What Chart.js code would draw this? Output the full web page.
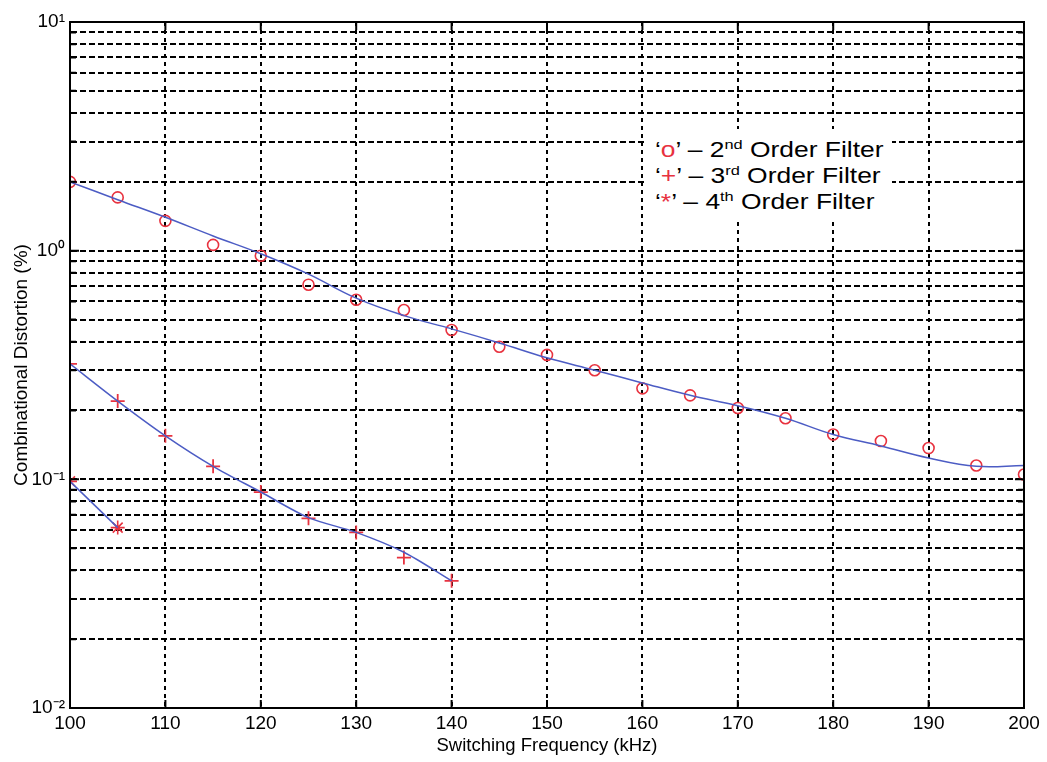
<!DOCTYPE html>
<html>
<head>
<meta charset="utf-8">
<script src="https://cdn.jsdelivr.net/npm/chart.js@4/dist/chart.umd.min.js"></script>
<style>
  html, body { margin: 0; padding: 0; background: #fff; }
  #wrap { position: relative; width: 1047px; height: 762px; }
  #legend {
    position: absolute; left: 646px; top: 129px; width: 246px; height: 90px;
    background: #fff;
  }
  #legend .txt {
    position: absolute; left: 9px; top: 8px;
    font-family: "Liberation Sans", Arial, sans-serif; font-size: 22px;
    line-height: 26px; color: #000; white-space: nowrap;
    transform: scaleX(1.2); transform-origin: left top;
  }
  #legend .mk { color: #e8323f; }
  #legend sup { font-size: 0.62em; vertical-align: 0.62em; line-height: 0; }
</style>
</head>
<body>
<div id="wrap">
  <canvas id="distChart" width="1047" height="762"></canvas>
  <div id="legend">
    <div class="txt">
      <div>‘<span class="mk">o</span>’ – 2<sup>nd</sup> Order Filter</div>
      <div>‘<span class="mk">+</span>’ – 3<sup>rd</sup> Order Filter</div>
      <div>‘<span class="mk">*</span>’ – 4<sup>th</sup> Order Filter</div>
    </div>
  </div>
</div>
<script>
// switching frequency (kHz) and measured distortion (%)
const freq2 = [100,105,110,115,120,125,130,135,140,145,150,155,160,165,170,175,180,185,190,195,200];
const dist2 = [2.0,1.71,1.35,1.06,0.95,0.71,0.61,0.55,0.45,0.38,0.35,0.30,0.25,0.233,0.205,0.185,0.157,0.147,0.137,0.115,0.105];
const fit2  = [2.0,1.67,1.40,1.16,0.97,0.79,0.62,0.52,0.455,0.395,0.34,0.30,0.264,0.233,0.21,0.185,0.157,0.14,0.124,0.114,0.115];

const freq3 = [100,105,110,115,120,125,130,135,140];
const dist3 = [0.32,0.22,0.155,0.114,0.088,0.0675,0.0586,0.0455,0.036];
const fit3  = [0.32,0.22,0.155,0.114,0.088,0.068,0.0586,0.048,0.036];

const freq4 = [100,105];
const dist4 = [0.098,0.0615];

const xTicks = [100,110,120,130,140,150,160,170,180,190,200];
const yDecades = [0.01,0.1,1,10];
const yDecadeLabels = ['10\u207B\u00B2','10\u207B\u00B9','10\u2070','10\u00B9'];

const RED = '#e8323f';
const BLUE = '#4c5cc4';
const FONT = '"Liberation Sans", Arial, sans-serif';

const pts = (xs, ys) => xs.map((x, i) => ({x: x, y: ys[i]}));

// log grid lines at 1..9 x 10^k
const logTicks = [];
for (let e = -2; e <= 0; e++) {
  for (let m = 1; m <= 9; m++) logTicks.push({value: +(m * Math.pow(10, e)).toPrecision(3)});
}
logTicks.push({value: 10});

// box around the plot plus matlab-style inner tick marks
const boxPlugin = {
  id: 'box',
  afterDraw(chart) {
    const {ctx, chartArea: a, scales} = chart;
    ctx.save();
    ctx.strokeStyle = '#000';
    ctx.lineWidth = 2;
    ctx.strokeRect(a.left, a.top, a.right - a.left, a.bottom - a.top);
    ctx.beginPath();
    xTicks.forEach(v => {
      const px = scales.x.getPixelForValue(v);
      ctx.moveTo(px, a.bottom); ctx.lineTo(px, a.bottom - 8);
      ctx.moveTo(px, a.top); ctx.lineTo(px, a.top + 8);
    });
    logTicks.forEach(t => {
      const py = scales.y.getPixelForValue(t.value);
      const len = yDecades.includes(t.value) ? 9 : 6;
      ctx.moveTo(a.left, py); ctx.lineTo(a.left + len, py);
      ctx.moveTo(a.right, py); ctx.lineTo(a.right - len, py);
    });
    ctx.stroke();
    ctx.restore();
  }
};

const ctx = document.getElementById('distChart').getContext('2d');
const distChart = new Chart(ctx, {
  type: 'scatter',
  data: {
    datasets: [
      { label: '2nd fit', data: pts(freq2, fit2), showLine: true, borderColor: BLUE, borderWidth: 1.5,
        pointRadius: 0, tension: 0.4, fill: false },
      { label: '3rd fit', data: pts(freq3, fit3), showLine: true, borderColor: BLUE, borderWidth: 1.5,
        pointRadius: 0, tension: 0.3, fill: false },
      { label: '4th fit', data: pts(freq4, dist4), showLine: true, borderColor: BLUE, borderWidth: 1.5,
        pointRadius: 0, fill: false },
      { label: '2nd Order Filter', data: pts(freq2, dist2), pointStyle: 'circle', pointRadius: 5.5,
        borderColor: RED, backgroundColor: 'rgba(0,0,0,0)', pointBorderWidth: 1.6 },
      { label: '3rd Order Filter', data: pts(freq3, dist3), pointStyle: 'cross', pointRadius: 7,
        borderColor: RED, pointBorderWidth: 1.8 },
      { label: '4th Order Filter', data: pts(freq4, dist4), pointStyle: 'star', pointRadius: 7,
        borderColor: RED, pointBorderWidth: 1.6 }
    ]
  },
  options: {
    responsive: false,
    animation: false,
    layout: { padding: { top: 22, right: 23, left: 0, bottom: 0 } },
    plugins: { legend: { display: false }, tooltip: { enabled: false } },
    scales: {
      x: {
        type: 'linear', min: 100, max: 200,
        afterBuildTicks: s => { s.ticks = xTicks.map(v => ({value: v})); },
        afterFit: s => { s.height = 54; },
        grid: { color: '#000', lineWidth: 2, drawTicks: false },
        border: { display: true, color: '#000', width: 2, dash: [4, 4] },
        ticks: { color: '#000', font: { family: FONT, size: 19 }, padding: 4, maxRotation: 0, autoSkip: false },
        title: { display: true, text: 'Switching Frequency (kHz)', color: '#000',
                 font: { family: FONT, size: 18.5 }, padding: { top: 0, bottom: 5 } }
      },
      y: {
        type: 'logarithmic', min: 0.01, max: 10,
        afterBuildTicks: s => { s.ticks = logTicks.map(t => ({value: t.value})); },
        afterFit: s => { s.width = 70; },
        grid: { color: '#000', lineWidth: 2, drawTicks: false },
        border: { display: true, color: '#000', width: 2, dash: [6, 3] },
        ticks: {
          color: '#000', font: { family: FONT, size: 19 }, padding: 5, autoSkip: false,
          callback: v => {
            const i = yDecades.indexOf(+v);
            return i >= 0 ? yDecadeLabels[i] : '';
          }
        },
        title: { display: true, text: 'Combinational Distortion (%)', color: '#000',
                 font: { family: FONT, size: 19 }, padding: { top: 10, bottom: 4 } }
      }
    }
  },
  plugins: [boxPlugin]
});
</script>
</body>
</html>
